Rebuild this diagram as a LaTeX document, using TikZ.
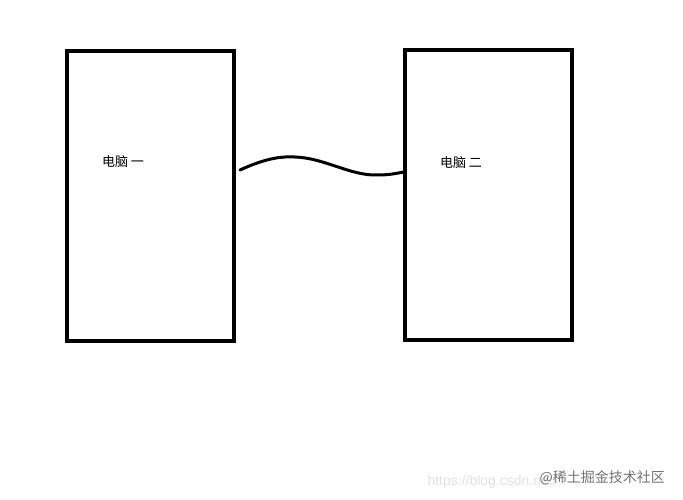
\documentclass[tikz,border=0pt]{standalone}
\usepackage{fontspec}
\newfontfamily\cjk{Noto Sans CJK SC}
\setmainfont{Liberation Sans}
\usetikzlibrary{positioning}

\begin{document}
\begin{tikzpicture}[x=1pt, y=-1pt]
\useasboundingbox (0,0) rectangle (683,500);
\node[draw, line width=3.5pt, minimum width=167pt, minimum height=290pt, inner sep=0] (pc1) at (150.5,196) {};
\node[draw, line width=3.5pt, minimum width=167pt, minimum height=290pt, inner sep=0] (pc2) at (488.5,195) {};
\node (l1) at (123,162) {\cjk\fontsize{13}{15}\selectfont 电脑 一};
\node (l2) at (461,163) {\cjk\fontsize{13}{15}\selectfont 电脑 二};
% Cable:
\coordinate (w1) at (240,170);
\coordinate (w2) at (404,172);
\draw[line width=3pt, line cap=round] (w1) .. controls (262,160) and (278,156) .. (295,157) .. controls (325,158) and (350,176) .. (378,175) .. controls (390,175) and (398,173) .. (w2);
% Watermark:
\node[text=black!12, anchor=west] (url) at (424,482) {\fontsize{14}{16}\selectfont https://blog.csdn.net/};
\node[text=black!55, anchor=west] (wm) at (536,478) {\cjk\fontsize{14}{16}\selectfont @稀土掘金技术社区};
\end{tikzpicture}
\end{document}
